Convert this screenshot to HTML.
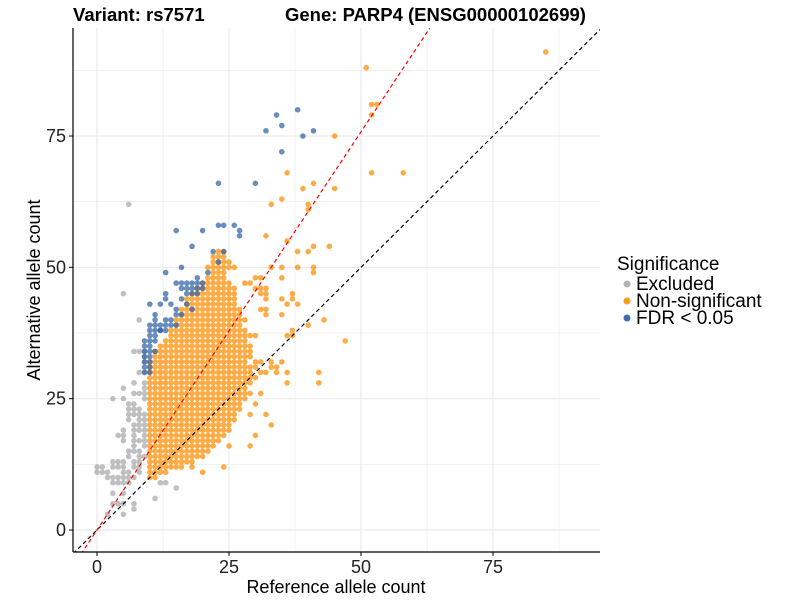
<!DOCTYPE html>
<html><head><meta charset="utf-8"><style>
body{margin:0;background:#fff;}
svg{display:block;font-family:"Liberation Sans",Arial,sans-serif;}
</style></head><body>
<svg id="chart" width="800" height="600" viewBox="0 0 800 600">
<defs><clipPath id="plotclip"><rect x="73" y="28" width="527" height="524"/></clipPath></defs>
<rect width="800" height="600" fill="#fff"/>
<g id="grid"></g>
<g id="pts" clip-path="url(#plotclip)"></g>
<g id="lines" clip-path="url(#plotclip)"></g>
<line x1="73" y1="28" x2="73" y2="552" stroke="#000" stroke-width="1.2"/>
<line x1="73" y1="552" x2="600" y2="552" stroke="#000" stroke-width="1.2"/>
<g id="ticks"></g>
<text x="73" y="21" font-size="18.5" font-weight="bold" fill="#000">Variant: rs7571</text>
<text x="285" y="21" font-size="18.5" font-weight="bold" fill="#000">Gene: PARP4 (ENSG00000102699)</text>
<text x="336" y="593" font-size="18" text-anchor="middle" fill="#000">Reference allele count</text>
<text transform="translate(40,290) rotate(-90)" font-size="18" text-anchor="middle" fill="#000">Alternative allele count</text>
<g>
<text x="617" y="270" font-size="19" fill="#000">Significance</text>
<g><circle cx="627" cy="284" r="3.5" fill="#b3b3b3"/><text x="636" y="290" font-size="19" fill="#000">Excluded</text></g>
<g><circle cx="627" cy="301" r="3.5" fill="#ff9a1a"/><text x="636" y="307" font-size="19" fill="#000">Non-significant</text></g>
<g><circle cx="627" cy="318" r="3.5" fill="#3f6fa8"/><text x="636" y="324" font-size="19" fill="#000">FDR &lt; 0.05</text></g>
</g>
</svg>
<script>
const xTicks=[0,25,50,75];
const yTicks=[0,25,50,75];
// dense rows: [alt, refLo, refHi]
const orangeRows=[[10,10,11],[11,10,13],[12,10,15],[13,10,18],[14,10,20],[15,10,21],[16,10,22],[17,10,23],[18,10,24],[19,10,25],[20,10,25],[21,10,26],[22,10,26],[23,10,27],[24,10,27],[25,10,28],[26,10,28],[27,10,28],[28,10,29],[29,10,29],[30,10,29],[31,10,29],[32,10,28],[33,11,29],[34,11,29],[35,12,29],[36,13,28],[37,14,30],[38,14,28],[39,15,27],[40,15,28],[41,16,27],[42,16,27],[43,17,26],[44,17,26],[45,18,26],[46,19,26],[47,20,25],[48,21,24],[49,22,24],[50,21,26],[51,22,25],[52,22,24],[53,23,24]];
const orangeExtra=[[85,91],[51,88],[52,81],[53,81],[52,79],[45,75],[36,68],[52,68],[58,68],[39,65],[41,66],[45,65],[33,62],[35,63],[40,62],[40,61],[32,56],[36,55],[41,54],[44,54],[38,53],[40,53],[33,50],[35,50],[38,50],[41,50],[41,49],[30,48],[31,48],[35,48],[28,47],[29,47],[30,46],[31,46],[32,46],[31,45],[32,45],[37,45],[32,44],[35,44],[37,44],[36,43],[38,43],[31,42],[32,42],[32,41],[35,41],[43,40],[40,39],[37,38],[36,37],[37,37],[47,36],[30,32],[31,32],[33,32],[35,32],[30,31],[33,31],[34,31],[31,30],[32,30],[34,30],[36,30],[42,30],[30,29],[36,28],[42,28],[29,26],[31,26],[30,24],[29,22],[32,22],[33,20],[30,18],[29,16],[25,16],[16,12],[18,12],[24,12],[20,11]];
const grayPoints=[[7,34],[8,34],[9,34],[9,33],[9,32],[8,30],[9,30],[7,28],[9,28],[5,27],[9,27],[7,26],[8,26],[9,26],[3,25],[5,25],[9,25],[6,24],[7,24],[6,23],[7,23],[8,23],[6,22],[7,22],[8,22],[9,22],[6,21],[8,21],[9,21],[7,20],[8,20],[9,20],[5,19],[7,19],[8,19],[9,19],[4,18],[5,18],[7,18],[9,18],[5,17],[7,17],[8,17],[9,17],[7,16],[9,16],[6,15],[7,15],[8,15],[6,14],[8,14],[9,14],[3,13],[4,13],[5,13],[7,13],[8,13],[0,12],[1,12],[3,12],[4,12],[5,12],[7,12],[8,12],[0,11],[1,11],[2,11],[5,11],[6,11],[8,11],[2,10],[3,10],[4,10],[5,10],[6,10],[7,10],[3,9],[4,9],[5,9],[6,9],[3,7],[5,7],[3,5],[4,5],[5,5],[7,5],[7,4],[2,3],[5,3],[6,62],[5,45],[8,40],[15,8],[11,6],[12,9],[13,9]];
const blueRows=[[30,9,10],[31,9,10],[32,9,10],[33,9,10],[34,9,11],[35,9,10],[36,9,11],[37,10,11],[38,10,13],[39,10,14]];
const blueExtra=[[34,79],[38,80],[32,76],[35,77],[39,75],[41,76],[35,72],[23,66],[30,66],[15,57],[20,57],[23,58],[24,58],[26,58],[27,57],[27,56],[18,54],[22,53],[24,53],[23,51],[13,49],[16,50],[21,49],[19,48],[15,47],[16,47],[17,47],[18,47],[19,47],[20,47],[16,46],[17,46],[18,46],[19,46],[20,46],[13,45],[17,45],[18,45],[19,45],[13,44],[16,44],[10,43],[12,43],[14,43],[17,43],[15,42],[18,42],[11,41],[15,41],[16,41],[11,40],[13,40],[14,40],[15,39],[12,38]];
const NS='http://www.w3.org/2000/svg';
const xs=v=>97+v*5.28;
const ys=v=>530-v*5.253;
const grid=document.getElementById('grid');
function gl(x1,y1,x2,y2,w,nm){const l=document.createElementNS(NS,'line');
l.setAttribute('x1',x1);l.setAttribute('y1',y1);l.setAttribute('x2',x2);l.setAttribute('y2',y2);
l.setAttribute('stroke','#ebebeb');l.setAttribute('stroke-width',w);


grid.appendChild(l);}
for(let v=-12.5;v<=100;v+=12.5){const x=xs(v);if(x>73&&x<600)gl(x,28,x,552,Number.isInteger(v/25)?1.2:0.7,'x-grid-line');}
for(let v=-12.5;v<=100;v+=12.5){const y=ys(v);if(y>28&&y<552)gl(73,y,600,y,Number.isInteger(v/25)?1.2:0.7,'y-grid-line');}
const ticks=document.getElementById('ticks');
xTicks.forEach(t=>{const l=document.createElementNS(NS,'line');l.setAttribute('x1',xs(t));l.setAttribute('x2',xs(t));l.setAttribute('y1',552);l.setAttribute('y2',556);l.setAttribute('stroke','#000');


ticks.appendChild(l);
const tx=document.createElementNS(NS,'text');tx.setAttribute('x',xs(t));tx.setAttribute('y',573);tx.setAttribute('text-anchor','middle');tx.setAttribute('font-size','18');tx.setAttribute('fill','#222');tx.textContent=t;


ticks.appendChild(tx);});
yTicks.forEach(t=>{const l=document.createElementNS(NS,'line');l.setAttribute('x1',69);l.setAttribute('x2',73);l.setAttribute('y1',ys(t));l.setAttribute('y2',ys(t));l.setAttribute('stroke','#000');


ticks.appendChild(l);
const tx=document.createElementNS(NS,'text');tx.setAttribute('x',66);tx.setAttribute('y',ys(t)+6);tx.setAttribute('text-anchor','end');tx.setAttribute('font-size','18');tx.setAttribute('fill','#222');tx.textContent=t;


ticks.appendChild(tx);});
const pts=document.getElementById('pts');
function dot(r,a,col,nm){const c=document.createElementNS(NS,'circle');c.setAttribute('cx',xs(r));c.setAttribute('cy',ys(a));c.setAttribute('r',2.8);c.setAttribute('fill',col);c.setAttribute('fill-opacity','0.72');


pts.appendChild(c);}
function rows(arr,col,nm){arr.forEach(([a,lo,hi])=>{for(let r=lo;r<=hi;r++)dot(r,a,col,nm);});}
grayPoints.forEach(([r,a])=>dot(r,a,'#a8a8a8','excluded-point'));
rows(orangeRows,'#ff8c00','non-significant-point');
orangeExtra.forEach(([r,a])=>dot(r,a,'#ff8c00','non-significant-point'));
rows(blueRows,'#2f62a3','fdr-significant-point');
blueExtra.forEach(([r,a])=>dot(r,a,'#2f62a3','fdr-significant-point'));
const lines=document.getElementById('lines');
function dl(slope,col,nm){const x0=-4.5,x1=(95.5/slope);const l=document.createElementNS(NS,'line');
l.setAttribute('x1',xs(x0));l.setAttribute('y1',ys(slope*x0));l.setAttribute('x2',xs(Math.min(x1,95.3)));l.setAttribute('y2',ys(slope*Math.min(x1,95.3)));
l.setAttribute('stroke',col);l.setAttribute('stroke-width',1.2);l.setAttribute('stroke-dasharray','4 3');


lines.appendChild(l);}
dl(1,'#000','identity-line');
dl(1.516,'#ff0000','fitted-ratio-line');
</script>
</body></html>
